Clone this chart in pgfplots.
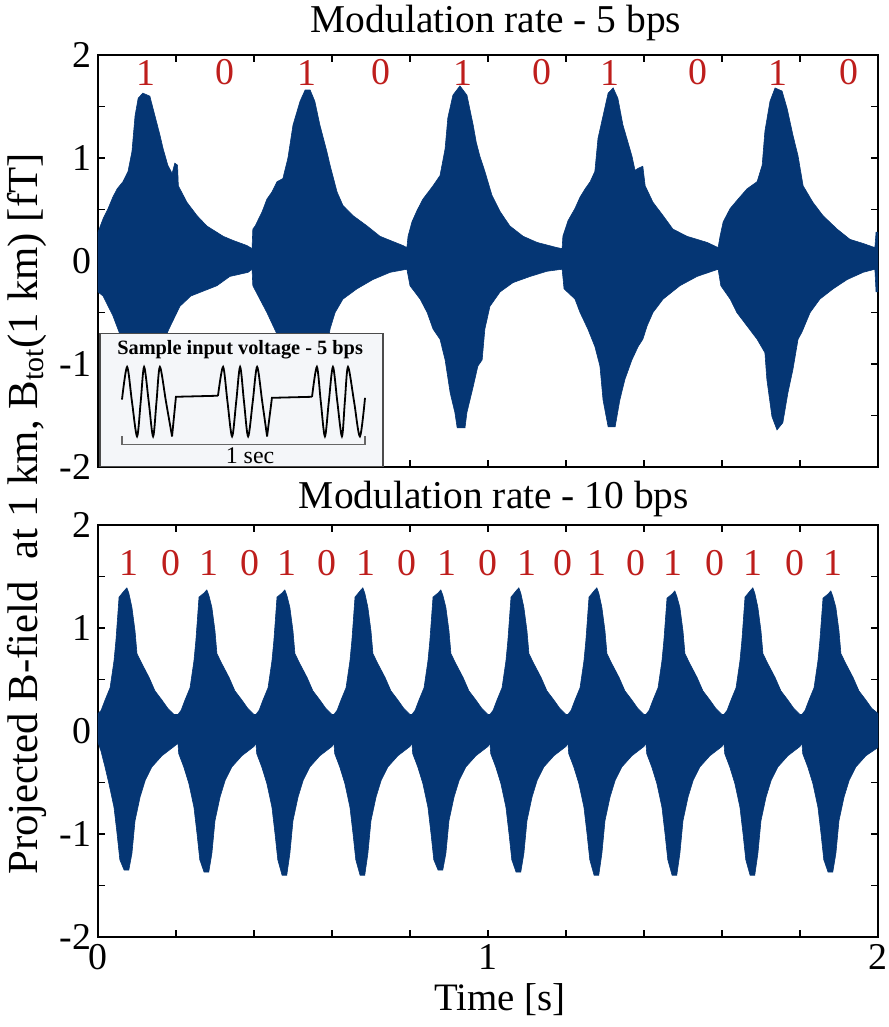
\documentclass[border=0pt]{standalone}
\usepackage{fontspec}
\setmainfont{Liberation Serif}
\usepackage{pgfplots}
\usepackage{pgfplotstable}
\pgfplotsset{compat=1.18}

\definecolor{wave}{RGB}{5,54,116}
\definecolor{bitred}{RGB}{190,30,28}
\definecolor{insetbg}{RGB}{244,246,249}

% 5 bps: upper and lower envelope
\pgfplotstableread[row sep=\\]{
x y \\
0.000 0.28 \\ 0.013 0.41 \\ 0.026 0.51 \\ 0.038 0.62 \\ 0.049 0.70 \\ 0.064 0.77 \\
0.077 0.87 \\ 0.087 1.06 \\ 0.095 1.41 \\ 0.103 1.58 \\ 0.115 1.63 \\ 0.133 1.60 \\
0.146 1.41 \\ 0.159 1.22 \\ 0.167 1.09 \\ 0.179 0.93 \\ 0.190 0.85 \\ 0.197 0.95 \\
0.204 0.93 \\ 0.206 0.73 \\ 0.228 0.57 \\ 0.254 0.44 \\ 0.279 0.34 \\ 0.321 0.24 \\
0.346 0.20 \\ 0.382 0.15 \\ 0.395 0.12 \\
0.397 0.31 \\ 0.403 0.34 \\ 0.421 0.48 \\ 0.433 0.60 \\ 0.446 0.67 \\ 0.459 0.77 \\
0.474 0.80 \\ 0.487 1.00 \\ 0.500 1.32 \\ 0.518 1.55 \\ 0.531 1.66 \\ 0.544 1.66 \\
0.556 1.55 \\ 0.569 1.32 \\ 0.587 1.06 \\ 0.595 0.93 \\ 0.613 0.67 \\ 0.628 0.54 \\
0.654 0.44 \\ 0.690 0.34 \\ 0.723 0.24 \\ 0.749 0.20 \\ 0.782 0.15 \\ 0.792 0.13 \\
0.795 0.24 \\ 0.805 0.38 \\ 0.818 0.49 \\ 0.833 0.60 \\ 0.859 0.73 \\ 0.877 0.83 \\
0.890 1.09 \\ 0.897 1.39 \\ 0.910 1.61 \\ 0.928 1.70 \\ 0.946 1.61 \\ 0.962 1.32 \\
0.970 1.15 \\ 0.979 1.02 \\ 0.992 0.87 \\ 1.010 0.64 \\ 1.031 0.48 \\ 1.056 0.34 \\
1.090 0.24 \\ 1.126 0.18 \\ 1.177 0.13 \\ 1.190 0.12 \\
1.192 0.24 \\ 1.205 0.39 \\ 1.223 0.51 \\ 1.236 0.62 \\ 1.249 0.70 \\ 1.262 0.77 \\
1.274 0.87 \\ 1.282 1.19 \\ 1.295 1.41 \\ 1.308 1.63 \\ 1.321 1.68 \\ 1.333 1.58 \\
1.346 1.32 \\ 1.356 1.19 \\ 1.369 1.02 \\ 1.377 0.88 \\ 1.385 0.90 \\ 1.397 0.92 \\
1.403 0.73 \\ 1.423 0.57 \\ 1.449 0.44 \\ 1.474 0.31 \\ 1.510 0.24 \\ 1.562 0.18 \\
1.590 0.13 \\
1.595 0.24 \\ 1.603 0.38 \\ 1.621 0.51 \\ 1.641 0.60 \\ 1.664 0.70 \\ 1.690 0.77 \\
1.703 0.93 \\ 1.710 1.26 \\ 1.723 1.55 \\ 1.736 1.68 \\ 1.754 1.65 \\ 1.767 1.48 \\
1.782 1.22 \\ 1.795 1.02 \\ 1.808 0.73 \\ 1.833 0.57 \\ 1.859 0.44 \\ 1.895 0.31 \\
1.928 0.21 \\ 1.962 0.17 \\ 1.992 0.13 \\ 1.995 0.28 \\ 2.000 0.28 \\
}\fiveup

\pgfplotstableread[row sep=\\]{
x y \\
0.000 -0.30 \\ 0.013 -0.34 \\ 0.026 -0.44 \\ 0.038 -0.53 \\ 0.051 -0.66 \\ 0.070 -0.85 \\
0.085 -1.05 \\ 0.095 -1.35 \\ 0.105 -1.58 \\ 0.120 -1.60 \\ 0.130 -1.45 \\ 0.145 -1.10 \\
0.160 -0.90 \\ 0.175 -0.72 \\ 0.182 -0.66 \\ 0.210 -0.44 \\ 0.238 -0.34 \\ 0.305 -0.24 \\
0.338 -0.15 \\ 0.385 -0.11 \\ 0.395 -0.08 \\
0.397 -0.24 \\ 0.415 -0.37 \\ 0.433 -0.50 \\ 0.449 -0.63 \\ 0.470 -0.80 \\ 0.490 -1.05 \\
0.505 -1.40 \\ 0.520 -1.60 \\ 0.540 -1.60 \\ 0.555 -1.40 \\ 0.570 -1.10 \\ 0.590 -0.80 \\
0.595 -0.66 \\ 0.608 -0.50 \\ 0.628 -0.37 \\ 0.664 -0.27 \\ 0.705 -0.18 \\ 0.749 -0.11 \\
0.792 -0.08 \\
0.800 -0.24 \\ 0.826 -0.37 \\ 0.844 -0.50 \\ 0.859 -0.66 \\ 0.877 -0.76 \\ 0.890 -0.96 \\
0.903 -1.28 \\ 0.915 -1.47 \\ 0.921 -1.62 \\ 0.941 -1.62 \\ 0.946 -1.47 \\ 0.962 -1.22 \\
0.974 -1.02 \\ 0.985 -0.96 \\ 0.992 -0.66 \\ 1.005 -0.44 \\ 1.031 -0.30 \\ 1.064 -0.21 \\
1.108 -0.15 \\ 1.151 -0.10 \\ 1.190 -0.08 \\
1.195 -0.27 \\ 1.223 -0.37 \\ 1.236 -0.50 \\ 1.256 -0.66 \\ 1.274 -0.83 \\ 1.287 -1.02 \\
1.295 -1.35 \\ 1.308 -1.61 \\ 1.326 -1.61 \\ 1.338 -1.35 \\ 1.351 -1.15 \\ 1.369 -0.96 \\
1.385 -0.83 \\ 1.397 -0.76 \\ 1.408 -0.63 \\ 1.423 -0.50 \\ 1.449 -0.37 \\ 1.492 -0.24 \\
1.536 -0.15 \\ 1.590 -0.08 \\
1.597 -0.24 \\ 1.621 -0.37 \\ 1.638 -0.50 \\ 1.664 -0.63 \\ 1.690 -0.76 \\ 1.710 -0.89 \\
1.715 -1.15 \\ 1.728 -1.51 \\ 1.741 -1.64 \\ 1.756 -1.57 \\ 1.769 -1.28 \\ 1.782 -1.05 \\
1.795 -0.76 \\ 1.805 -0.69 \\ 1.826 -0.50 \\ 1.851 -0.37 \\ 1.885 -0.27 \\ 1.921 -0.18 \\
1.962 -0.11 \\ 1.992 -0.08 \\ 1.995 -0.30 \\ 2.000 -0.30 \\
}\fivelo

% 10 bps: upper and lower envelope
\pgfplotstableread[row sep=\\]{
x y \\
0.000 0.17 \\ 0.008 0.20 \\ 0.018 0.30 \\ 0.031 0.42 \\ 0.041 0.68 \\ 0.046 0.88 \\ 0.054 1.30 \\
0.067 1.36 \\ 0.074 1.39 \\ 0.079 1.34 \\ 0.087 1.20 \\ 0.095 0.97 \\ 0.100 0.75 \\ 0.113 0.65 \\
0.131 0.52 \\ 0.146 0.39 \\ 0.164 0.30 \\ 0.179 0.22 \\ 0.195 0.16 \\
0.205 0.16 \\ 0.213 0.20 \\ 0.223 0.30 \\ 0.236 0.42 \\ 0.246 0.68 \\ 0.251 0.88 \\ 0.259 1.30 \\
0.272 1.34 \\ 0.279 1.37 \\ 0.284 1.32 \\ 0.292 1.20 \\ 0.300 0.97 \\ 0.305 0.75 \\ 0.318 0.65 \\
0.336 0.52 \\ 0.351 0.39 \\ 0.369 0.30 \\ 0.384 0.22 \\ 0.400 0.16 \\
0.405 0.16 \\ 0.413 0.20 \\ 0.423 0.30 \\ 0.436 0.42 \\ 0.446 0.68 \\ 0.451 0.88 \\ 0.459 1.30 \\
0.472 1.34 \\ 0.479 1.37 \\ 0.484 1.32 \\ 0.492 1.20 \\ 0.500 0.97 \\ 0.505 0.75 \\ 0.518 0.65 \\
0.536 0.52 \\ 0.551 0.39 \\ 0.569 0.30 \\ 0.584 0.22 \\ 0.600 0.16 \\
0.605 0.16 \\ 0.613 0.20 \\ 0.623 0.30 \\ 0.636 0.42 \\ 0.646 0.68 \\ 0.651 0.88 \\ 0.659 1.30 \\
0.672 1.36 \\ 0.679 1.39 \\ 0.684 1.34 \\ 0.692 1.20 \\ 0.700 0.97 \\ 0.705 0.75 \\ 0.718 0.65 \\
0.736 0.52 \\ 0.751 0.39 \\ 0.769 0.30 \\ 0.784 0.22 \\ 0.800 0.16 \\
0.805 0.16 \\ 0.813 0.20 \\ 0.823 0.30 \\ 0.836 0.42 \\ 0.846 0.68 \\ 0.851 0.88 \\ 0.859 1.30 \\
0.872 1.34 \\ 0.879 1.37 \\ 0.884 1.32 \\ 0.892 1.20 \\ 0.900 0.97 \\ 0.905 0.75 \\ 0.918 0.65 \\
0.936 0.52 \\ 0.951 0.39 \\ 0.969 0.30 \\ 0.984 0.22 \\ 1.000 0.16 \\
1.005 0.16 \\ 1.013 0.20 \\ 1.023 0.30 \\ 1.036 0.42 \\ 1.046 0.68 \\ 1.051 0.88 \\ 1.059 1.30 \\
1.072 1.36 \\ 1.079 1.39 \\ 1.084 1.34 \\ 1.092 1.20 \\ 1.100 0.97 \\ 1.105 0.75 \\ 1.118 0.65 \\
1.136 0.52 \\ 1.151 0.39 \\ 1.169 0.30 \\ 1.184 0.22 \\ 1.200 0.16 \\
1.205 0.16 \\ 1.213 0.20 \\ 1.223 0.30 \\ 1.236 0.42 \\ 1.246 0.68 \\ 1.251 0.88 \\ 1.259 1.30 \\
1.272 1.36 \\ 1.279 1.39 \\ 1.284 1.34 \\ 1.292 1.20 \\ 1.300 0.97 \\ 1.305 0.75 \\ 1.318 0.65 \\
1.336 0.52 \\ 1.351 0.39 \\ 1.369 0.30 \\ 1.384 0.22 \\ 1.400 0.16 \\
1.405 0.16 \\ 1.413 0.20 \\ 1.423 0.30 \\ 1.436 0.42 \\ 1.446 0.68 \\ 1.451 0.88 \\ 1.459 1.29 \\
1.472 1.33 \\ 1.479 1.36 \\ 1.484 1.31 \\ 1.492 1.20 \\ 1.500 0.97 \\ 1.505 0.75 \\ 1.518 0.65 \\
1.536 0.52 \\ 1.551 0.39 \\ 1.569 0.30 \\ 1.584 0.22 \\ 1.600 0.16 \\
1.605 0.16 \\ 1.613 0.20 \\ 1.623 0.30 \\ 1.636 0.42 \\ 1.646 0.68 \\ 1.651 0.88 \\ 1.659 1.30 \\
1.672 1.36 \\ 1.679 1.39 \\ 1.684 1.34 \\ 1.692 1.20 \\ 1.700 0.97 \\ 1.705 0.75 \\ 1.718 0.65 \\
1.736 0.52 \\ 1.751 0.39 \\ 1.769 0.30 \\ 1.784 0.22 \\ 1.800 0.16 \\
1.805 0.16 \\ 1.813 0.20 \\ 1.823 0.30 \\ 1.836 0.42 \\ 1.846 0.68 \\ 1.851 0.88 \\ 1.859 1.29 \\
1.872 1.33 \\ 1.879 1.36 \\ 1.884 1.31 \\ 1.892 1.20 \\ 1.900 0.97 \\ 1.905 0.75 \\ 1.918 0.65 \\
1.936 0.52 \\ 1.951 0.39 \\ 1.969 0.30 \\ 1.984 0.22 \\ 2.000 0.17 \\
}\tenup

\pgfplotstableread[row sep=\\]{
x y \\
0.000 -0.11 \\ 0.008 -0.20 \\ 0.018 -0.35 \\ 0.028 -0.51 \\ 0.041 -0.74 \\ 0.049 -1.00 \\ 0.056 -1.25 \\
0.067 -1.35 \\ 0.079 -1.35 \\ 0.087 -1.19 \\ 0.095 -0.87 \\ 0.108 -0.64 \\ 0.121 -0.48 \\ 0.138 -0.35 \\
0.164 -0.24 \\ 0.195 -0.15 \\
0.205 -0.12 \\ 0.207 -0.22 \\ 0.220 -0.35 \\ 0.233 -0.51 \\ 0.246 -0.74 \\ 0.254 -1.00 \\ 0.261 -1.25 \\
0.272 -1.37 \\ 0.284 -1.37 \\ 0.292 -1.19 \\ 0.300 -0.87 \\ 0.313 -0.64 \\ 0.326 -0.48 \\ 0.343 -0.35 \\
0.369 -0.24 \\ 0.400 -0.15 \\
0.405 -0.12 \\ 0.407 -0.22 \\ 0.420 -0.35 \\ 0.433 -0.51 \\ 0.446 -0.74 \\ 0.454 -1.00 \\ 0.461 -1.25 \\
0.472 -1.40 \\ 0.484 -1.40 \\ 0.492 -1.19 \\ 0.500 -0.87 \\ 0.513 -0.64 \\ 0.526 -0.48 \\ 0.543 -0.35 \\
0.569 -0.24 \\ 0.600 -0.15 \\
0.605 -0.12 \\ 0.607 -0.22 \\ 0.620 -0.35 \\ 0.633 -0.51 \\ 0.646 -0.74 \\ 0.654 -1.00 \\ 0.661 -1.25 \\
0.672 -1.40 \\ 0.684 -1.40 \\ 0.692 -1.19 \\ 0.700 -0.87 \\ 0.713 -0.64 \\ 0.726 -0.48 \\ 0.743 -0.35 \\
0.769 -0.24 \\ 0.800 -0.15 \\
0.805 -0.12 \\ 0.807 -0.22 \\ 0.820 -0.35 \\ 0.833 -0.51 \\ 0.846 -0.74 \\ 0.854 -1.00 \\ 0.861 -1.25 \\
0.872 -1.35 \\ 0.884 -1.35 \\ 0.892 -1.19 \\ 0.900 -0.87 \\ 0.913 -0.64 \\ 0.926 -0.48 \\ 0.943 -0.35 \\
0.969 -0.24 \\ 1.000 -0.15 \\
1.005 -0.12 \\ 1.007 -0.22 \\ 1.020 -0.35 \\ 1.033 -0.51 \\ 1.046 -0.74 \\ 1.054 -1.00 \\ 1.061 -1.25 \\
1.072 -1.37 \\ 1.084 -1.37 \\ 1.092 -1.19 \\ 1.100 -0.87 \\ 1.113 -0.64 \\ 1.126 -0.48 \\ 1.143 -0.35 \\
1.169 -0.24 \\ 1.200 -0.15 \\
1.205 -0.12 \\ 1.207 -0.22 \\ 1.220 -0.35 \\ 1.233 -0.51 \\ 1.246 -0.74 \\ 1.254 -1.00 \\ 1.261 -1.25 \\
1.272 -1.40 \\ 1.284 -1.40 \\ 1.292 -1.19 \\ 1.300 -0.87 \\ 1.313 -0.64 \\ 1.326 -0.48 \\ 1.343 -0.35 \\
1.369 -0.24 \\ 1.400 -0.15 \\
1.405 -0.12 \\ 1.407 -0.22 \\ 1.420 -0.35 \\ 1.433 -0.51 \\ 1.446 -0.74 \\ 1.454 -1.00 \\ 1.461 -1.25 \\
1.472 -1.40 \\ 1.484 -1.40 \\ 1.492 -1.19 \\ 1.500 -0.87 \\ 1.513 -0.64 \\ 1.526 -0.48 \\ 1.543 -0.35 \\
1.569 -0.24 \\ 1.600 -0.15 \\
1.605 -0.12 \\ 1.607 -0.22 \\ 1.620 -0.35 \\ 1.633 -0.51 \\ 1.646 -0.74 \\ 1.654 -1.00 \\ 1.661 -1.25 \\
1.672 -1.40 \\ 1.684 -1.40 \\ 1.692 -1.19 \\ 1.700 -0.87 \\ 1.713 -0.64 \\ 1.726 -0.48 \\ 1.743 -0.35 \\
1.769 -0.24 \\ 1.800 -0.15 \\
1.805 -0.12 \\ 1.807 -0.22 \\ 1.820 -0.35 \\ 1.833 -0.51 \\ 1.846 -0.74 \\ 1.854 -1.00 \\ 1.861 -1.25 \\
1.872 -1.37 \\ 1.884 -1.37 \\ 1.892 -1.19 \\ 1.900 -0.87 \\ 1.913 -0.64 \\ 1.926 -0.48 \\ 1.943 -0.35 \\
1.969 -0.24 \\ 2.000 -0.16 \\
}\tenlo

% bit labels
\pgfplotstableread[row sep=\\]{
x y b \\
0.123 1.83 1 \\ 0.326 1.83 0 \\ 0.536 1.83 1 \\ 0.726 1.83 0 \\ 0.936 1.83 1 \\
1.138 1.83 0 \\ 1.313 1.83 1 \\ 1.538 1.83 0 \\ 1.744 1.83 1 \\ 1.926 1.83 0 \\
}\fivebits

\pgfplotstableread[row sep=\\]{
x y b \\
0.080 1.63 1 \\ 0.187 1.63 0 \\ 0.285 1.63 1 \\ 0.390 1.63 0 \\ 0.484 1.63 1 \\
0.588 1.63 0 \\ 0.687 1.63 1 \\ 0.792 1.63 0 \\ 0.896 1.63 1 \\ 1.001 1.63 0 \\
1.099 1.63 1 \\ 1.192 1.63 0 \\ 1.280 1.63 1 \\ 1.379 1.63 0 \\ 1.475 1.63 1 \\
1.582 1.63 0 \\ 1.680 1.63 1 \\ 1.787 1.63 0 \\ 1.885 1.63 1 \\
}\tenbits

\pgfplotsset{
  panel/.style={
    scale only axis, width=390bp, height=206bp, anchor=south west,
    xmin=0, xmax=2, ymin=-2, ymax=2,
    xtick={0,0.2,0.4,0.6,0.8,1,1.2,1.4,1.6,1.8,2},
    ytick={-2,-1.5,-1,-0.5,0,0.5,1,1.5,2},
    yticklabels={-2,,-1,,0,,1,,2},
    tick align=inside, major tick length=3.5bp,
    tick style={black, line width=0.6bp},
    axis line style={line width=0.75bp},
    ticklabel style={font=\fontsize{19}{19}\selectfont},
    title style={font=\fontsize{19.8}{21}\selectfont, at={(0.5,1)}, anchor=base},
  },
  env/.style={fill=wave, draw=wave, line width=0.3bp, no markers},
  bits/.style={only marks, mark=none, nodes near coords, point meta=explicit symbolic,
    nodes near coords style={anchor=center, text=bitred, font=\fontsize{19}{19}\selectfont}},
}

\begin{document}
\begin{tikzpicture}
\path[use as bounding box] (0,0) rectangle (444.5bp,513.5bp);

% top panel, 5 bps
\begin{axis}[panel, at={(49bp,280bp)}, xticklabels={},
  title={Modulation rate - 5 bps}, title style={yshift=5.5bp, xshift=4bp}]
\addplot[env] table {\fiveup} \closedcycle;
\addplot[env] table {\fivelo} \closedcycle;
\addplot[bits] table[meta=b] {\fivebits};
\end{axis}

% inset: sample input voltage
\begin{axis}[at={(50bp,280.4bp)}, anchor=south west, scale only axis,
  width=141.5bp, height=66.5bp,
  xmin=-0.0905, xmax=1.074, ymin=-1.857, ymax=1.97,
  ticks=none, clip=false,
  axis background/.style={fill=insetbg},
  axis line style={draw=black!70, line width=0.6bp}]
\addplot[black, line width=0.9bp, smooth] coordinates {
  (0,0.06) (0.021,1) (0.041,0) (0.062,-1) (0.077,0) (0.091,1) (0.110,0)
  (0.128,-1) (0.142,0) (0.156,1) (0.181,0) (0.206,-1)};
\addplot[black, line width=0.9bp] coordinates {(0.206,-1) (0.222,0.14) (0.395,0.17)};
\addplot[black, line width=0.9bp, smooth] coordinates {
  (0.395,0.17) (0.416,1) (0.434,0) (0.453,-1) (0.470,0) (0.486,1) (0.502,0)
  (0.519,-1) (0.538,0) (0.556,1) (0.577,0) (0.597,-1)};
\addplot[black, line width=0.9bp] coordinates {(0.597,-1) (0.617,0.11) (0.782,0.14)};
\addplot[black, line width=0.9bp, smooth] coordinates {
  (0.782,0.14) (0.802,1) (0.818,0) (0.835,-1) (0.851,0) (0.868,1) (0.886,0)
  (0.905,-1) (0.917,0) (0.930,1) (0.955,0) (0.979,-1) (1.0,0.11)};
\addplot[black!60, line width=0.6bp] coordinates {(0,-1.0) (0,-1.23) (1,-1.23) (1,-1.0)};
\node[font=\bfseries\fontsize{10.2}{11}\selectfont] at (axis cs:0.486,1.49) {Sample input voltage - 5 bps};
\node[font=\fontsize{12}{12}\selectfont] at (axis cs:0.527,-1.57) {1 sec};
\end{axis}

% bottom panel, 10 bps
\begin{axis}[panel, at={(49bp,45bp)}, xticklabels={0,,,,,1,,,,,2},
  title={Modulation rate - 10 bps}, title style={yshift=2.5bp, xshift=3bp},
  xlabel={Time [s]},
  xlabel style={font=\fontsize{19.5}{19.5}\selectfont, at={(0.5,0)}, anchor=base, yshift=-36.5bp, xshift=6bp}]
\addplot[env] table {\tenup} \closedcycle;
\addplot[env] table {\tenlo} \closedcycle;
\addplot[bits] table[meta=b] {\tenbits};
\end{axis}

\node[rotate=90, font=\fontsize{21.5}{21.5}\selectfont] at (13.5bp,256.5bp)
  {Projected B-field\ \ at 1 km, B\textsubscript{tot}(1 km) [fT]};
\end{tikzpicture}
\end{document}
